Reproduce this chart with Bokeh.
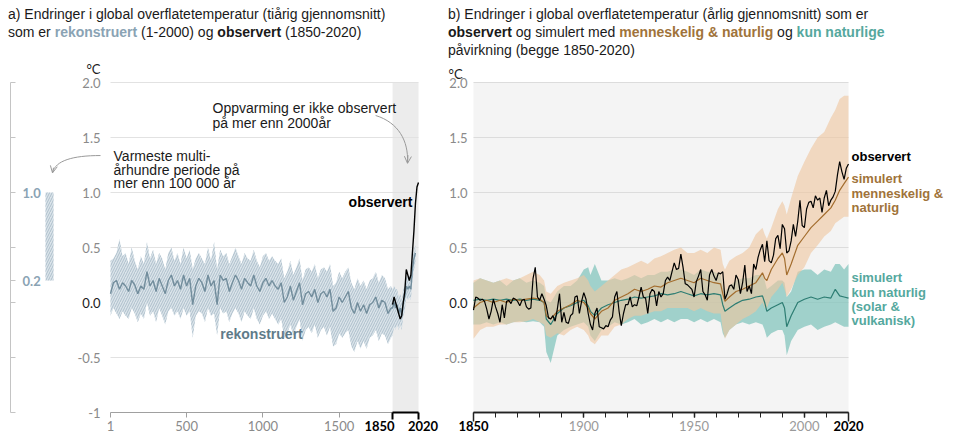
from bokeh.plotting import figure
from bokeh.models import (Div, Arrow, OpenHead, FixedTicker, LinearAxis,
                          CustomJSTickFormatter, Range1d)
from bokeh.layouts import row, column
from bokeh.embed import file_html
from bokeh.resources import INLINE
from bokeh.core.properties import value

# ---------------- data ----------------
# Panel a: reconstructed (decadal, sampled) and observed
recon_years = [1] + list(range(20, 1841, 20)) + list(range(1850, 2001, 10))
recon_mid = [0.08, 0.18, 0.20, 0.12, 0.18, 0.15, 0.10, 0.20, 0.16, 0.08,
             0.15, 0.12, 0.28, 0.15, 0.20, 0.10, 0.22, 0.15, 0.08, 0.20,
             0.25, 0.15, 0.20, 0.12, 0.25, 0.15, 0.22, -0.02, 0.15, 0.22,
             0.18, 0.10, 0.25, 0.15, 0.20, -0.02, 0.25, 0.20, 0.22, 0.10,
             0.18, 0.25, 0.20, 0.12, 0.22, 0.18, 0.15, 0.25, 0.15, 0.10,
             0.18, 0.22, 0.15, 0.20, 0.15, 0.12, 0.18, 0.00, 0.05, 0.15,
             0.02, 0.10, 0.18, -0.02, 0.08, 0.10, 0.05, 0.12, 0.00, 0.08,
             0.10, 0.05, 0.12, -0.08, -0.05, 0.05, 0.00, 0.05, 0.10, -0.05,
             -0.10, 0.00, -0.08, -0.02, -0.10, -0.02, 0.00, 0.05, -0.05, 0.02,
             0.00, -0.10, -0.05,
             -0.05, 0.00, -0.05, -0.02, -0.10, -0.05, -0.12, 0.00, 0.05, 0.15,
             0.12, 0.15, 0.12, 0.30, 0.40, 0.45]
recon_hi = [0.38, 0.40, 0.45, 0.58, 0.42, 0.45, 0.35, 0.50, 0.38, 0.30,
            0.42, 0.35, 0.55, 0.40, 0.48, 0.35, 0.45, 0.40, 0.30, 0.45,
            0.50, 0.38, 0.45, 0.35, 0.50, 0.40, 0.48, 0.30, 0.40, 0.45,
            0.40, 0.35, 0.50, 0.38, 0.55, 0.30, 0.48, 0.42, 0.45, 0.35,
            0.42, 0.50, 0.42, 0.35, 0.45, 0.40, 0.38, 0.48, 0.38, 0.32,
            0.42, 0.45, 0.38, 0.42, 0.38, 0.35, 0.40, 0.22, 0.28, 0.38,
            0.25, 0.32, 0.40, 0.20, 0.30, 0.32, 0.28, 0.35, 0.22, 0.30,
            0.32, 0.28, 0.35, 0.15, 0.18, 0.28, 0.22, 0.28, 0.32, 0.18,
            0.12, 0.22, 0.15, 0.20, 0.12, 0.20, 0.22, 0.28, 0.18, 0.25,
            0.22, 0.12, 0.15,
            0.12, 0.15, 0.12, 0.12, 0.05, 0.08, 0.02, 0.12, 0.15, 0.25,
            0.22, 0.25, 0.22, 0.40, 0.48, 0.52]
recon_lo = [-0.12, -0.05, -0.10, -0.15, -0.08, -0.12, -0.15, -0.05, -0.10, -0.18,
            -0.10, -0.15, 0.00, -0.12, -0.08, -0.18, -0.05, -0.12, -0.20, -0.08,
            -0.05, -0.12, -0.08, -0.15, -0.05, -0.12, -0.08, -0.32, -0.12, -0.08,
            -0.10, -0.18, -0.05, -0.12, -0.10, -0.30, -0.05, -0.10, -0.08, -0.18,
            -0.10, -0.05, -0.10, -0.18, -0.08, -0.12, -0.15, -0.05, -0.15, -0.20,
            -0.12, -0.08, -0.15, -0.10, -0.15, -0.20, -0.15, -0.32, -0.28, -0.20,
            -0.30, -0.22, -0.15, -0.35, -0.25, -0.22, -0.28, -0.20, -0.32, -0.25,
            -0.22, -0.30, -0.22, -0.40, -0.38, -0.28, -0.32, -0.28, -0.25, -0.40,
            -0.45, -0.35, -0.42, -0.35, -0.42, -0.32, -0.30, -0.25, -0.35, -0.28,
            -0.30, -0.38, -0.32,
            -0.30, -0.22, -0.25, -0.20, -0.25, -0.20, -0.25, -0.12, -0.08, 0.05,
            0.02, 0.05, 0.02, 0.20, 0.30, 0.35]
obs_dec_years = list(range(1850, 2021, 10))
obs_dec = [-0.02, 0.05, 0.00, -0.05, -0.10, -0.15, -0.12, 0.00, 0.10, 0.30,
           0.25, 0.20, 0.25, 0.45, 0.65, 0.90, 1.05, 1.09]
warm_period = [0.2, 1.0]          # warmest multi-century period (left bar)
recon_period = [1, 2020]
obs_period = [1850, 2020]

# Panel b: annual observed and simulated
obs_years = list(range(1850, 2021))
obs_annual = [-0.07, 0.05, 0.04, 0.02, 0.03, 0.01, -0.06, -0.15, -0.08, 0.03,   # 1850s
              -0.04, -0.10, -0.18, -0.02, -0.14, 0.01, 0.02, -0.01, 0.04, 0.03,  # 1860s
              0.01, -0.03, 0.02, 0.03, -0.04, -0.06, -0.05, 0.22, 0.32, 0.05,    # 1870s
              0.02, 0.08, 0.03, -0.03, -0.14, -0.15, -0.12, -0.17, -0.06, 0.08,  # 1880s
              -0.18, -0.09, -0.18, -0.19, -0.12, -0.10, 0.05, 0.06, -0.10, 0.01, # 1890s
              0.09, 0.03, -0.10, -0.20, -0.25, -0.10, -0.05, -0.22, -0.23, -0.24, # 1900s
              -0.21, -0.22, -0.16, -0.13, 0.05, 0.10, -0.08, -0.21, -0.10, -0.02, # 1910s
              -0.02, 0.05, -0.04, -0.02, -0.03, 0.05, 0.14, 0.05, 0.04, -0.10,  # 1920s
              0.08, 0.12, 0.10, -0.03, 0.10, 0.05, 0.08, 0.20, 0.23, 0.20,       # 1930s
              0.28, 0.36, 0.30, 0.31, 0.44, 0.32, 0.17, 0.16, 0.14, 0.12,        # 1940s
              0.05, 0.19, 0.24, 0.30, 0.10, 0.07, 0.02, 0.25, 0.30, 0.24,        # 1950s
              0.20, 0.27, 0.26, 0.28, 0.03, 0.08, 0.15, 0.16, 0.12, 0.25,        # 1960s
              0.21, 0.08, 0.18, 0.34, 0.10, 0.15, 0.08, 0.35, 0.30, 0.41,        # 1970s
              0.48, 0.53, 0.37, 0.56, 0.38, 0.36, 0.43, 0.58, 0.61, 0.49,        # 1980s
              0.71, 0.67, 0.45, 0.47, 0.56, 0.71, 0.60, 0.74, 0.93, 0.70,        # 1990s
              0.68, 0.85, 0.91, 0.92, 0.86, 0.97, 0.93, 0.95, 0.82, 0.95,        # 2000s
              1.02, 0.88, 0.93, 0.96, 1.01, 1.16, 1.28, 1.19, 1.12, 1.22,        # 2010s
              1.26]                                                             # 2020
sim_years = [1850, 1853, 1856, 1859, 1862, 1865, 1868, 1871, 1874, 1877,
             1880, 1882, 1883, 1885, 1888, 1891, 1894, 1897, 1900, 1902,
             1903, 1905, 1908, 1911, 1914, 1917, 1920, 1923, 1926, 1929,
             1932, 1935, 1938, 1941, 1944, 1947, 1950, 1953, 1956, 1959,
             1962, 1963, 1964, 1966, 1969, 1972, 1975, 1978, 1981, 1982,
             1983, 1985, 1988, 1990, 1991, 1992, 1994, 1997, 2000, 2003,
             2006, 2009, 2012, 2014, 2016, 2018, 2020]
sim_human_natural = [-0.05, 0.00, 0.02, 0.00, 0.02, 0.00, 0.03, 0.02, 0.03, 0.04,
                     0.03, 0.00, -0.12, -0.15, -0.08, -0.05, -0.02, 0.02, 0.00, -0.05,
                     -0.10, -0.15, -0.08, -0.05, 0.02, 0.05, 0.08, 0.12, 0.10, 0.12,
                     0.15, 0.14, 0.18, 0.20, 0.22, 0.20, 0.18, 0.22, 0.20, 0.18,
                     0.17, 0.08, 0.01, 0.05, 0.10, 0.12, 0.15, 0.18, 0.27, 0.22,
                     0.20, 0.30, 0.40, 0.45, 0.40, 0.25, 0.35, 0.52, 0.60, 0.68,
                     0.74, 0.80, 0.86, 0.93, 1.02, 1.08, 1.14]
sim_human_natural_hi = [0.20, 0.22, 0.20, 0.18, 0.20, 0.22, 0.20, 0.22, 0.25, 0.28,
                        0.25, 0.20, 0.10, 0.08, 0.15, 0.18, 0.20, 0.22, 0.25, 0.20,
                        0.15, 0.10, 0.15, 0.20, 0.25, 0.30, 0.32, 0.35, 0.38, 0.35,
                        0.40, 0.42, 0.45, 0.48, 0.50, 0.45, 0.45, 0.48, 0.45, 0.50,
                        0.48, 0.35, 0.30, 0.38, 0.42, 0.45, 0.50, 0.62, 0.68, 0.62,
                        0.58, 0.68, 0.85, 0.92, 0.88, 0.80, 0.95, 1.15, 1.28, 1.40,
                        1.50, 1.55, 1.68, 1.75, 1.85, 1.88, 1.88]
sim_human_natural_lo = [-0.33, -0.25, -0.22, -0.22, -0.20, -0.20, -0.18, -0.18, -0.17, -0.15,
                        -0.18, -0.20, -0.30, -0.32, -0.28, -0.30, -0.25, -0.22, -0.25, -0.30,
                        -0.35, -0.38, -0.30, -0.30, -0.22, -0.20, -0.15, -0.12, -0.12, -0.10,
                        -0.08, -0.08, -0.05, -0.05, -0.05, -0.05, -0.08, -0.05, -0.08, -0.10,
                        -0.10, -0.25, -0.33, -0.25, -0.20, -0.15, -0.12, -0.08, 0.00, -0.05,
                        -0.05, 0.05, 0.12, 0.18, 0.12, 0.05, 0.12, 0.25, 0.32, 0.45,
                        0.52, 0.60, 0.65, 0.72, 0.75, 0.78, 0.78]
sim_natural = [0.02, 0.03, 0.02, 0.03, 0.02, 0.03, 0.02, 0.03, 0.02, 0.03,
               0.02, 0.00, -0.15, -0.20, -0.10, -0.05, -0.03, 0.00, 0.02, -0.03,
               -0.08, -0.12, -0.05, -0.02, 0.00, 0.02, 0.03, 0.05, 0.04, 0.05,
               0.06, 0.08, 0.07, 0.08, 0.10, 0.08, 0.06, 0.08, 0.07, 0.08,
               0.07, -0.02, -0.08, -0.05, -0.01, 0.02, 0.03, 0.05, 0.06, 0.00,
               -0.08, -0.05, -0.02, 0.00, -0.05, -0.22, -0.12, 0.00, 0.03, 0.05,
               0.03, 0.05, 0.04, 0.12, 0.06, 0.05, 0.04]
sim_natural_hi = [0.18, 0.22, 0.20, 0.18, 0.20, 0.15, 0.20, 0.22, 0.18, 0.20,
                  0.18, 0.15, 0.02, 0.00, 0.10, 0.15, 0.15, 0.20, 0.30, 0.32,
                  0.25, 0.35, 0.20, 0.20, 0.22, 0.20, 0.22, 0.25, 0.22, 0.25,
                  0.25, 0.28, 0.28, 0.30, 0.30, 0.28, 0.25, 0.30, 0.28, 0.28,
                  0.25, 0.15, 0.10, 0.15, 0.20, 0.22, 0.22, 0.25, 0.25, 0.20,
                  0.12, 0.15, 0.20, 0.20, 0.18, 0.05, 0.10, 0.28, 0.30, 0.30,
                  0.25, 0.30, 0.28, 0.35, 0.35, 0.30, 0.35]
sim_natural_lo = [-0.20, -0.20, -0.18, -0.20, -0.18, -0.20, -0.18, -0.17, -0.18, -0.17,
                  -0.18, -0.22, -0.45, -0.55, -0.30, -0.25, -0.22, -0.20, -0.18, -0.22,
                  -0.30, -0.35, -0.25, -0.22, -0.18, -0.20, -0.18, -0.15, -0.20, -0.18,
                  -0.15, -0.18, -0.15, -0.18, -0.15, -0.15, -0.18, -0.15, -0.18, -0.15,
                  -0.18, -0.28, -0.32, -0.25, -0.20, -0.18, -0.20, -0.18, -0.20, -0.25,
                  -0.32, -0.28, -0.25, -0.25, -0.30, -0.48, -0.35, -0.25, -0.22, -0.20,
                  -0.25, -0.22, -0.20, -0.18, -0.20, -0.22, -0.22]

# ticks
yticks_left = [-1, -0.5, 0, 0.2, 0.5, 1, 1.5, 2]
yticks_a = [-1, -0.5, 0, 0.5, 1, 1.5, 2]
grid_a = [-0.5, 0, 0.5, 1, 1.5, 2]
xticks_a = [1, 500, 1000, 1500]
yticks_b = [-0.5, 0, 0.5, 1, 1.5, 2]
xticks_b = [1900, 1950, 2000]
xminor_b = list(range(1860, 2020, 10))

# ---------------- style / geometry ----------------
FONT = "Liberation Sans"
TFONT = "Lato"
TICK_GREY = "#8a8a8a"
RECON_LINE = "#728d9c"
RECON_FILL = "#dbe4ea"
RECON_HATCH = "#adbfcb"
RECON_TXT = "#8aa3b4"
BROWN_TXT = "#a0733a"
BROWN_LINE = "#a36d2e"
BROWN_FILL = "#efc7a0"
TEAL_TXT = "#55a89e"
TEAL_LINE = "#2d7d73"
TEAL_FILL = "#84c6bd"
ARROW_C = "#9a9a9a"

DIV_H = 62          # title block height
FIG_H = 372         # plot height (frame covers the whole canvas)
PX_PER_DEG = 110.0  # vertical scale
TOP_PAD = 20        # px between canvas top and the 2.0 line
Y0 = -1 - (FIG_H - TOP_PAD - 3 * PX_PER_DEG) / PX_PER_DEG
Y1 = 2 + TOP_PAD / PX_PER_DEG

# panel a: 308 px for years 1..2020, frame starts 110 px left of year 1
WA = 440
YPP_A = (recon_period[1] - recon_period[0]) / 308.0
XA0 = recon_period[0] - 110 * YPP_A
XA1 = XA0 + WA * YPP_A
# panel b: 375 px for 1850..2020, 33 px left margin
WB = 976 - WA
YPP_B = (obs_period[1] - obs_period[0]) / 375.0
XB0 = obs_period[0] - 33 * YPP_B
XB1 = XB0 + WB * YPP_B


def make_fig(w, xr):
    p = figure(output_backend="svg", toolbar_location=None, frame_width=w,
               frame_height=FIG_H, x_range=Range1d(*xr), y_range=Range1d(Y0, Y1))
    p.min_border_left = p.min_border_right = 0
    p.min_border_top = p.min_border_bottom = 0
    p.outline_line_color = None
    p.xgrid.visible = False
    p.ygrid.visible = False
    p.background_fill_color = "white"
    p.border_fill_color = "white"
    p.xaxis.visible = False
    p.yaxis.visible = False
    return p


def style_axis(a, color=TICK_GREY, bold=False):
    a.major_label_text_font = TFONT
    a.major_label_text_font_size = "13px"
    a.major_label_text_color = color
    a.major_label_text_font_style = "bold" if bold else "normal"
    a.minor_tick_line_color = None


def y_label_axis(p, loc, ticks, code, color, standoff):
    a = LinearAxis(fixed_location=loc, ticker=FixedTicker(ticks=ticks),
                   formatter=CustomJSTickFormatter(code=code))
    style_axis(a, color)
    a.axis_line_color = None
    a.major_tick_line_color = None
    a.major_tick_in = 0
    a.major_tick_out = 0
    a.major_label_standoff = standoff
    p.add_layout(a, "left")
    return a


def x_axis(p, ticks, bounds, color, line_color, line_w, tick_out, standoff,
           bold=False, minor=None, formatter=None):
    kw = dict(ticks=ticks)
    if minor is not None:
        kw["minor_ticks"] = minor
    a = LinearAxis(fixed_location=-1, ticker=FixedTicker(**kw), bounds=bounds)
    if formatter is not None:
        a.formatter = formatter
    style_axis(a, color, bold=bold)
    a.axis_line_color = line_color
    a.axis_line_width = line_w
    a.major_tick_line_color = line_color
    a.major_tick_line_width = line_w
    a.major_tick_in = 0
    a.major_tick_out = tick_out
    a.major_label_standoff = standoff
    if minor is not None:
        a.minor_tick_line_color = line_color
        a.minor_tick_in = 0
        a.minor_tick_out = tick_out
    p.add_layout(a, "below")
    return a


period_fmt = CustomJSTickFormatter(args=dict(labels=[str(y) for y in obs_period]),
                                   code="return labels[index];")

# ======================= panel a =======================
pa = make_fig(WA, (XA0, XA1))

pa.quad(left=[obs_period[0]], right=[obs_period[1]], bottom=[-1], top=[2],
        fill_color="#ececec", line_color=None)
pa.segment(x0=[recon_period[0]] * len(grid_a), x1=[recon_period[1]] * len(grid_a),
           y0=grid_a, y1=grid_a, line_color="#e2e2e2", line_width=1)
pa.varea(x=recon_years, y1=recon_lo, y2=recon_hi, fill_color=RECON_FILL,
         hatch_pattern="/", hatch_color=RECON_HATCH, hatch_scale=5, hatch_weight=1)
pa.line(recon_years, recon_mid, line_color=RECON_LINE, line_width=1.4)
pa.line(obs_dec_years, obs_dec, line_color="black", line_width=1.4)

# y labels of panel a
y_label_axis(pa, recon_period[0], yticks_a, """
    if (Math.abs(tick) < 1e-9) return "";
    if (Math.abs(tick + 1) < 1e-9) return "-1";
    return tick.toFixed(1);""", TICK_GREY, 10)
y_label_axis(pa, recon_period[0], [0], 'return "0.0";', "#1a1a1a", 10)
# x axis of panel a: grey part, black 1850-2020 bracket, bold period labels
x_axis(pa, xticks_a, (recon_period[0], recon_period[1]), TICK_GREY, "#a0a0a0", 1, 5, 3)
br = x_axis(pa, obs_period, (obs_period[0], obs_period[1]), "black", "black", 2, 7, 1)
br.major_label_text_color = None
lab = x_axis(pa, [obs_period[0] - 13 * YPP_A, obs_period[1] + 4.5 * YPP_A],
             (obs_period[0], obs_period[1]), "black", None, 1, 0, 8, bold=True,
             formatter=period_fmt)
lab.major_tick_line_color = None

# mini axis at far left with the warmest multi-century bar
mini_loc = XA0 + 10 * YPP_A
m = LinearAxis(fixed_location=mini_loc, ticker=FixedTicker(ticks=yticks_left),
               bounds=(-1, 2),
               formatter=CustomJSTickFormatter(code="""
    if (Math.abs(tick - 1) < 1e-9) return "1.0";
    if (Math.abs(tick - 0.2) < 1e-9) return "0.2";
    return "";"""))
style_axis(m, RECON_TXT, bold=True)
m.axis_line_color = "#c4c4c4"
m.major_tick_line_color = "#c4c4c4"
m.major_tick_in = 0
m.major_tick_out = 5
m.major_label_standoff = 7
pa.add_layout(m, "right")

pa.quad(left=[XA0 + 45 * YPP_A], right=[XA0 + 53 * YPP_A],
        bottom=[warm_period[0]], top=[warm_period[1]],
        fill_color=RECON_FILL, line_color=None, hatch_pattern="/",
        hatch_color=RECON_HATCH, hatch_scale=5, hatch_weight=1)

# annotations
pa.text(x=[recon_period[0]], y=[2.12], x_offset=-10, text=["°C"],
        text_font=value(TFONT), text_font_size="13px", text_color="#1a1a1a",
        text_baseline="middle", text_align="right")
pa.text(x=[670, 670, 21, 21, 21],
        y=[1.77, 1.636, 1.336, 1.209, 1.082],
        text=["Oppvarming er ikke observert", "på mer enn 2000år",
              "Varmeste multi-", "århundre periode på", "mer enn 100 000 år"],
        text_font=value(FONT), text_font_size="14px", text_color="#1a1a1a",
        text_baseline="middle", text_align="left")
pa.text(x=[1980], y=[0.91], text=["observert"], text_font=value(FONT),
        text_font_size="14px", text_font_style="bold", text_color="black",
        text_baseline="middle", text_align="right")
pa.text(x=[991], y=[-0.29], text=["rekonstruert"], text_font=value(FONT),
        text_font_size="14px", text_font_style="bold", text_color="#5f7b89",
        text_baseline="middle", text_align="center")
# arrow: warming not seen in 2000 years
pa.bezier(x0=[1739], y0=[1.70], x1=[1948], y1=[1.27], cx0=[1889], cy0=[1.636],
          cx1=[1955], cy1=[1.47], line_color=ARROW_C, line_width=1)
pa.add_layout(Arrow(end=OpenHead(size=7, line_color=ARROW_C, line_width=1),
                    x_start=1951, y_start=1.34, x_end=1948, y_end=1.265,
                    line_color=ARROW_C, line_width=1))
# arrow: warmest multi-century period -> bar
ax_s, ax_e = XA0 + 100 * YPP_A, XA0 + 52 * YPP_A
pa.bezier(x0=[ax_s], y0=[1.336], x1=[ax_e], y1=[1.18],
          cx0=[XA0 + 72 * YPP_A], cy0=[1.336], cx1=[XA0 + 55 * YPP_A], cy1=[1.29],
          line_color=ARROW_C, line_width=1)
pa.add_layout(Arrow(end=OpenHead(size=7, line_color=ARROW_C, line_width=1),
                    x_start=XA0 + 53 * YPP_A, y_start=1.225, x_end=ax_e, y_end=1.178,
                    line_color=ARROW_C, line_width=1))

# ======================= panel b =======================
pb = make_fig(WB, (XB0, XB1))

pb.quad(left=[obs_period[0]], right=[obs_period[1]], bottom=[-1], top=[2],
        fill_color="#f4f4f4", line_color=None)
pb.segment(x0=[obs_period[0]] * len(yticks_b), x1=[obs_period[1]] * len(yticks_b),
           y0=yticks_b, y1=yticks_b, line_color="#dcdcdc", line_width=1)

pb.varea(x=sim_years, y1=sim_natural_lo, y2=sim_natural_hi,
         fill_color=TEAL_FILL, fill_alpha=0.75)
pb.varea(x=sim_years, y1=sim_human_natural_lo, y2=sim_human_natural_hi,
         fill_color=BROWN_FILL, fill_alpha=0.62)
pb.line(sim_years, sim_natural, line_color=TEAL_LINE, line_width=1.2)
pb.line(sim_years, sim_human_natural, line_color=BROWN_LINE, line_width=1.2)
pb.line(obs_years, obs_annual, line_color="black", line_width=1.2)

y_label_axis(pb, obs_period[0], yticks_b, """
    if (Math.abs(tick) < 1e-9) return "";
    return tick.toFixed(1);""", TICK_GREY, 6)
y_label_axis(pb, obs_period[0], [0], 'return "0.0";', "#1a1a1a", 6)
x_axis(pb, xticks_b, (obs_period[0], obs_period[1]), "#9a9a9a", "#222222", 1.5, 5, 3,
       minor=xminor_b)
x_axis(pb, obs_period, (obs_period[0], obs_period[1]), "black", "#222222", 1.5, 9, -1,
       bold=True)

pb.text(x=[obs_period[0]], y=[2.08], x_offset=-25, text=["°C"],
        text_font=value(TFONT), text_font_size="13px", text_color="#1a1a1a",
        text_baseline="middle", text_align="left")

right_labels = ["observert", "simulert", "menneskelig &", "naturlig",
                "simulert", "kun naturlig", "(solar &", "vulkanisk)"]
right_label_y = [1.327, 1.127, 0.991, 0.864, 0.227, 0.091, -0.036, -0.164]
right_label_col = ["black", BROWN_TXT, BROWN_TXT, BROWN_TXT,
                   TEAL_TXT, TEAL_TXT, TEAL_TXT, TEAL_TXT]
pb.text(x=[obs_period[1]] * len(right_labels), y=right_label_y, text=right_labels,
        x_offset=3, text_color=right_label_col, text_font=value(FONT),
        text_font_size="13px", text_font_style="bold",
        text_baseline="middle", text_align="left")

# ---------------- titles ----------------
title_a = Div(width=WA, height=DIV_H, margin=0, text=(
    '<div style="font-family:\'Liberation Sans\',Arial,sans-serif;font-size:14px;'
    'line-height:18px;color:#1a1a1a;white-space:nowrap;padding:5px 0 0 8px">'
    'a) Endringer i global overflatetemperatur (tiårig gjennomsnitt)<br>'
    'som er <b style="color:%s">rekonstruert</b> (1-2000) og <b>observert</b> (1850-2020)'
    '</div>' % RECON_TXT))
title_b = Div(width=WB, height=DIV_H, margin=0, text=(
    '<div style="font-family:\'Liberation Sans\',Arial,sans-serif;font-size:14px;'
    'line-height:18px;color:#1a1a1a;white-space:nowrap;padding:5px 0 0 8px">'
    'b) Endringer i global overflatetemperatur (årlig gjennomsnitt) som er<br>'
    '<b>observert</b> og simulert med <b style="color:%s">menneskelig &amp; naturlig</b> '
    'og <b style="color:%s">kun naturlige</b><br>'
    'påvirkning (begge 1850-2020)</div>' % (BROWN_TXT, TEAL_TXT)))

layout = row(column(title_a, pa), column(title_b, pb))

open("out.html", "w").write(file_html(layout, INLINE))
